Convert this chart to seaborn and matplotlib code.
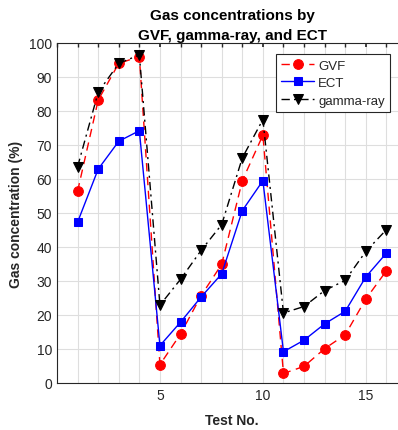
import matplotlib
matplotlib.use("Agg")
import matplotlib.pyplot as plt
import seaborn as sns
import pandas as pd
from matplotlib.ticker import MultipleLocator, FixedLocator

test_no = list(range(1, 17))
gvf = [56.4, 83.2, 94.0, 96.0, 5.4, 14.4, 25.7, 34.9, 59.5, 72.9, 2.8, 4.9, 10.1, 14.2, 24.7, 33.0]
ect = [47.3, 62.9, 71.1, 74.2, 11.0, 17.9, 25.3, 32.1, 50.7, 59.5, 9.2, 12.6, 17.4, 21.1, 31.2, 38.2]
gamma = [63.6, 85.5, 94.0, 96.5, 22.9, 30.5, 39.0, 46.6, 66.2, 77.5, 20.6, 22.5, 27.2, 30.2, 38.7, 45.1]
x_tick_labels = [5, 10, 15]

sns.set_theme(style="white")
plt.rcParams['font.family'] = ['Liberation Sans', 'DejaVu Sans']

fig = plt.figure(figsize=(3.98, 4.31), dpi=100)
ax = fig.add_axes([57/398, (431-384)/431, 350/398, 340/431])

df = pd.DataFrame({"test": test_no, "GVF": gvf, "ECT": ect, "gamma-ray": gamma})

sns.lineplot(data=df, x="test", y="GVF", ax=ax, color="#ff0000", linestyle=(0, (6, 4)),
             marker="o", markersize=7, markeredgecolor="#ff0000", linewidth=1.0, label="GVF")
sns.lineplot(data=df, x="test", y="ECT", ax=ax, color="#0000ff", linestyle="-",
             marker="s", markersize=6, markeredgecolor="#0000ff", linewidth=1.0, label="ECT")
sns.lineplot(data=df, x="test", y="gamma-ray", ax=ax, color="#000000", linestyle=(0, (6, 3, 1.5, 3)),
             marker="v", markersize=7, markeredgecolor="#000000", linewidth=1.0, label="gamma-ray")

ax.set_xlim(0, 17)
ax.set_ylim(0, 100)
ax.xaxis.set_major_locator(FixedLocator(x_tick_labels))
ax.xaxis.set_minor_locator(MultipleLocator(1))
ax.yaxis.set_major_locator(MultipleLocator(10))
ax.grid(True, which="both", color="#dedede", linewidth=0.8)
ax.set_axisbelow(True)
ax.tick_params(axis="both", which="both", direction="in", length=3, color="#262626",
               labelsize=10, labelcolor="#262626", top=True, right=True)
for s in ax.spines.values():
    s.set_color("#262626")
    s.set_linewidth(0.8)

ax.set_xlabel("Test No.", fontsize=10, fontweight="bold", color="#262626", labelpad=8)
ax.set_ylabel("Gas concentration (%)", fontsize=10, fontweight="bold", color="#262626")
ax.set_title("Gas concentrations by\nGVF, gamma-ray, and ECT", fontsize=11, fontweight="bold",
             color="#000000", linespacing=1.55, pad=3)

leg = ax.legend(loc="upper right", bbox_to_anchor=(390/398, 1 - 55/431), bbox_transform=fig.transFigure,
                fontsize=9.5, frameon=True, fancybox=False, edgecolor="#262626", handlelength=2.5,
                borderpad=0.4, labelspacing=0.4, handletextpad=0.3, borderaxespad=0)
leg.get_frame().set_linewidth(0.8)
leg.get_frame().set_alpha(1)

fig.savefig("out.png", dpi=100)
